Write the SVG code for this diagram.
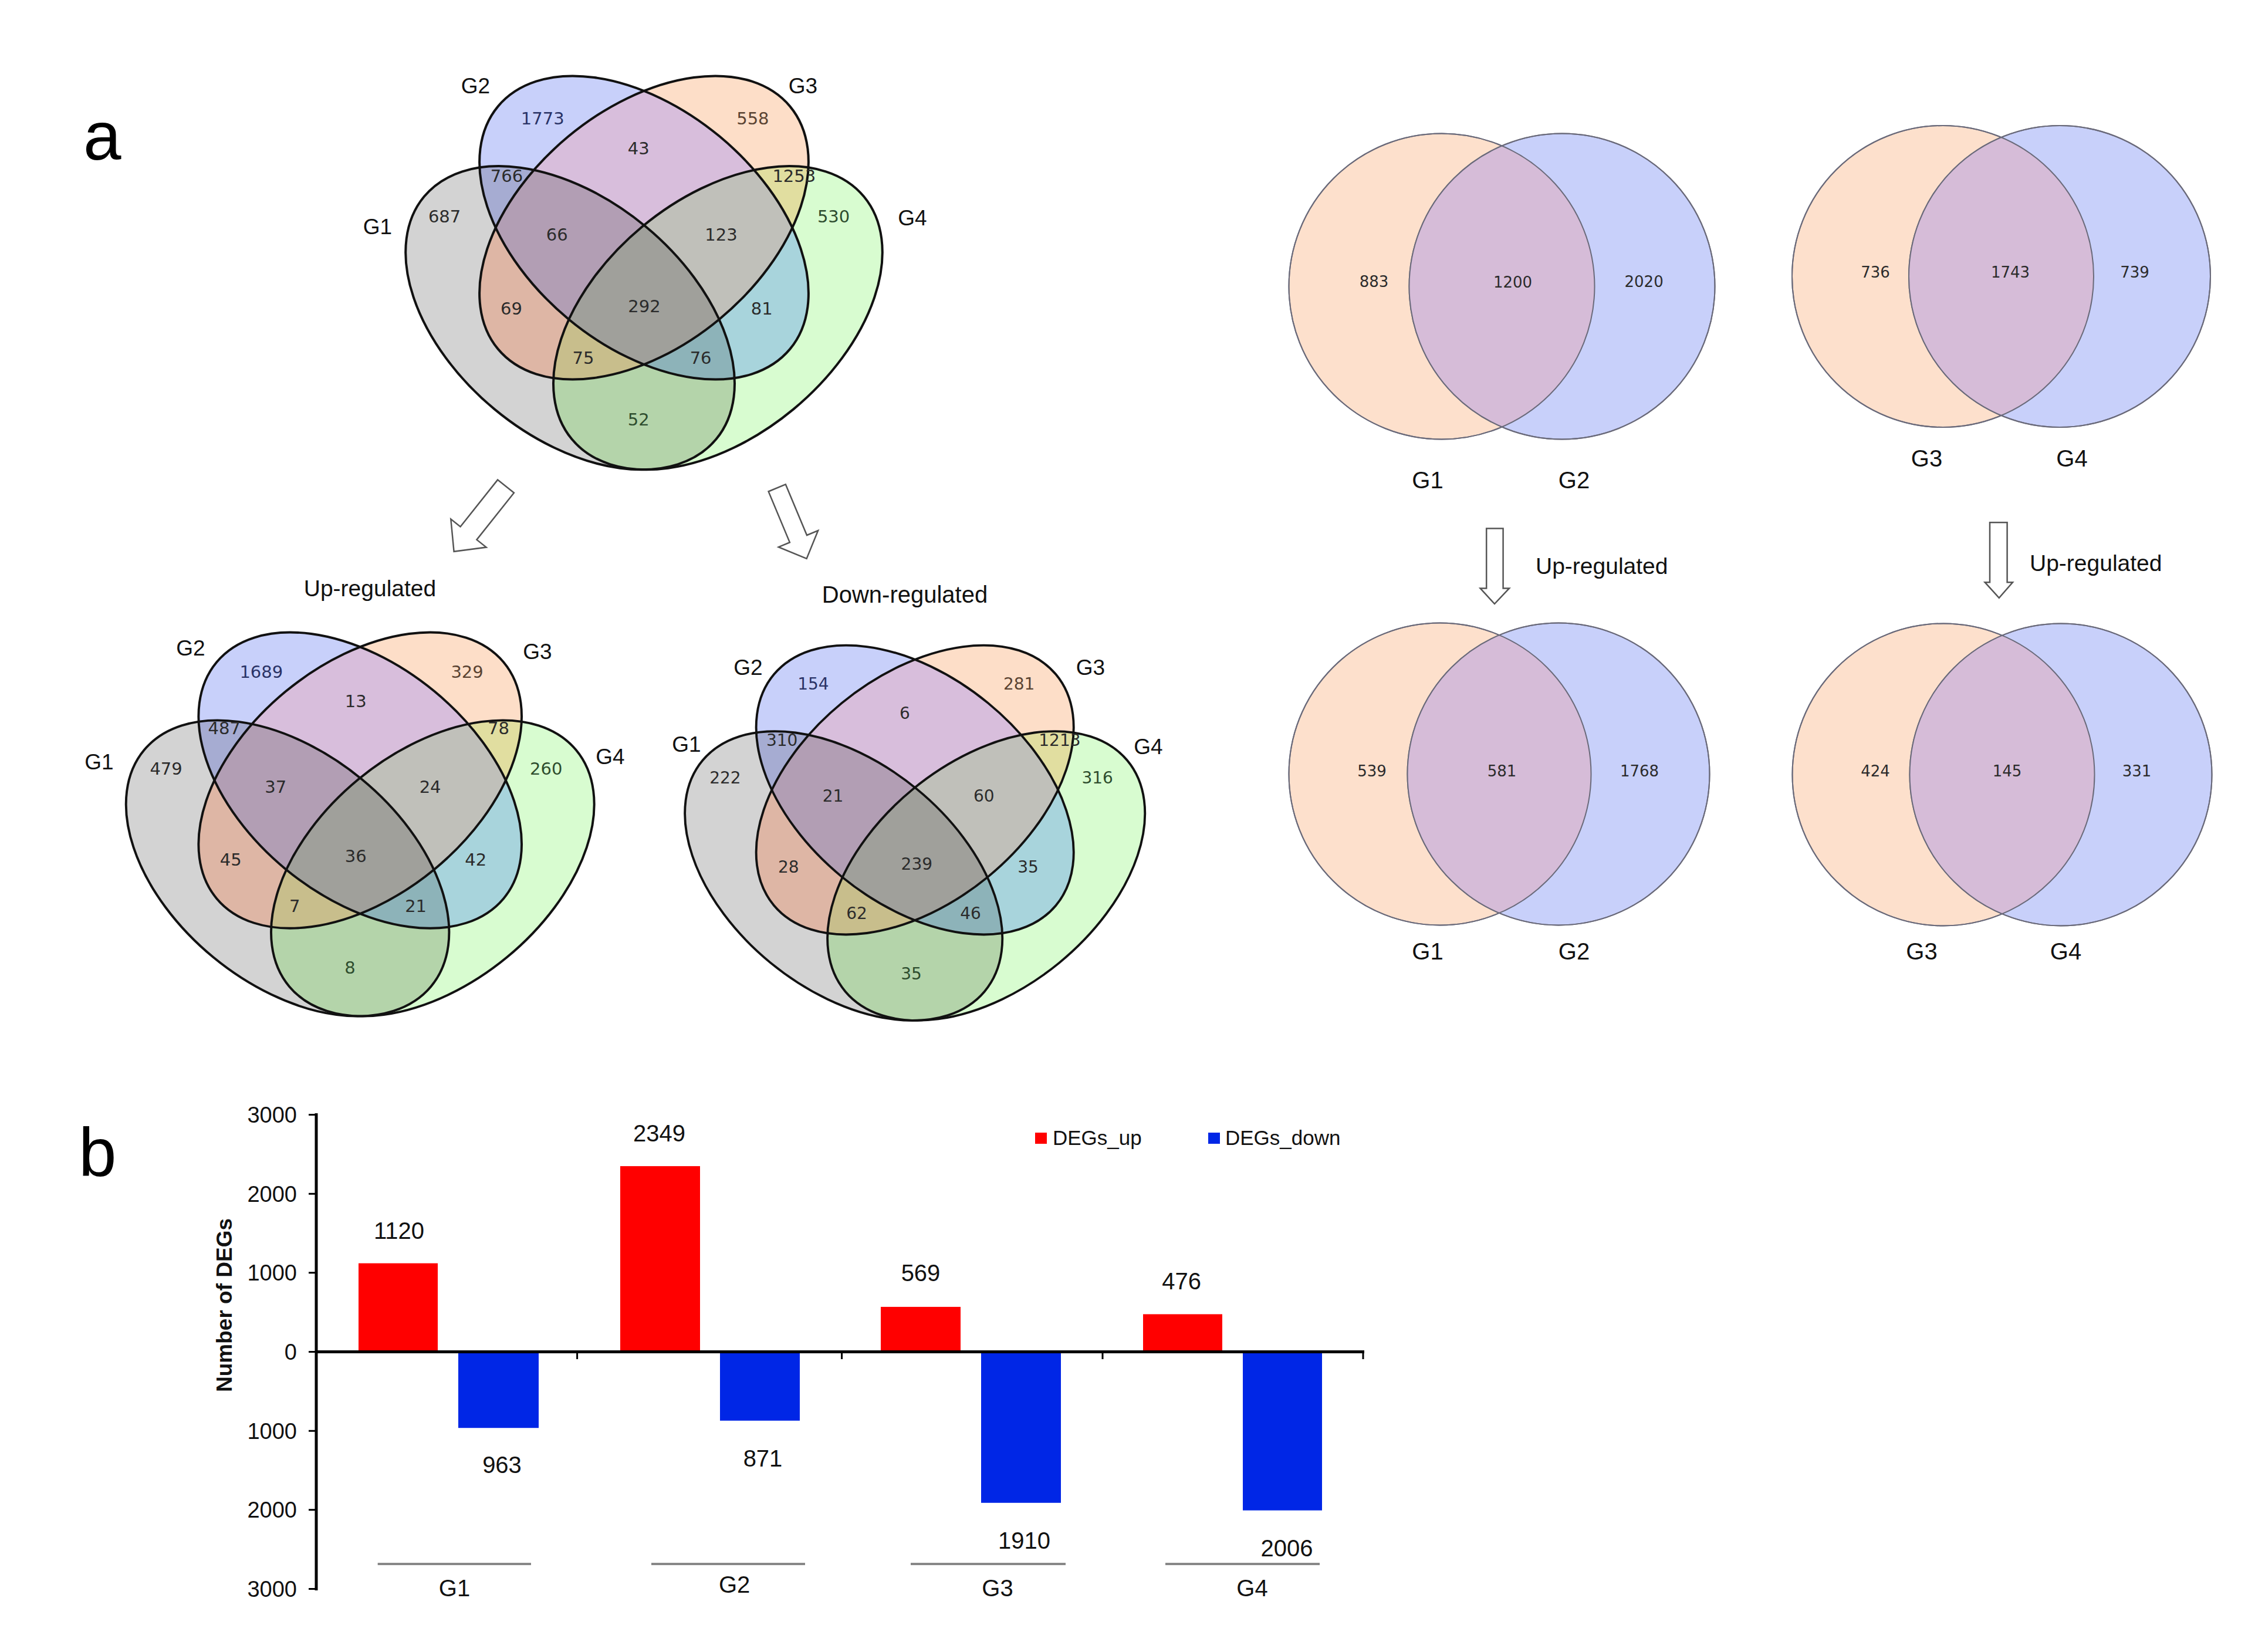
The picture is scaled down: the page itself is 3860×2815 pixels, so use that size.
<svg xmlns="http://www.w3.org/2000/svg" xmlns:xlink="http://www.w3.org/1999/xlink" width="3860" height="2815" viewBox="0 0 3860 2815">
<style>
.num{font-family:"DejaVu Sans","Liberation Sans",sans-serif;font-size:29px;text-anchor:middle;fill:#2b2b2b}
.nd{font-size:28px}
.tb{fill:#2a3366}.to{fill:#5a4332}.tg{fill:#2e4d2e}
.set{font-family:"Liberation Sans",Arial,sans-serif;font-size:37px;text-anchor:middle;fill:#111}
.n2{font-family:"DejaVu Sans","Liberation Sans",sans-serif;font-size:26px;text-anchor:middle;fill:#2b2b2b}
.set2{font-family:"Liberation Sans",Arial,sans-serif;font-size:40px;text-anchor:middle;fill:#111}
.lbl{font-family:"Liberation Sans",Arial,sans-serif;font-size:39px;fill:#111}
.ax{font-family:"Liberation Sans",Arial,sans-serif;font-size:38px;text-anchor:end;fill:#111}
.val{font-family:"Liberation Sans",Arial,sans-serif;font-size:40px;text-anchor:middle;fill:#111}
.leg{font-family:"Liberation Sans",Arial,sans-serif;font-size:35px;fill:#111}
.panel{font-family:"Liberation Sans",Arial,sans-serif;font-size:116px;fill:#000}
.outl{fill:none;stroke:#111;stroke-width:4}
.arrow{fill:#fff;stroke:#555;stroke-width:2.5;stroke-linejoin:miter}
.c2{stroke:#6a6a7a;stroke-width:2}
</style>
<defs>
<ellipse id="e1" cx="971.6" cy="541.7" rx="323.5" ry="202" transform="rotate(39.7 971.6 541.7)"/>
<ellipse id="e2" cx="1097.5" cy="388" rx="323.5" ry="202" transform="rotate(39.7 1097.5 388)"/>
<ellipse id="e3" cx="1097.5" cy="388" rx="323.5" ry="202" transform="rotate(-39.7 1097.5 388)"/>
<ellipse id="e4" cx="1223.4" cy="541.7" rx="323.5" ry="202" transform="rotate(-39.7 1223.4 541.7)"/>
<clipPath id="c1"><use xlink:href="#e1"/></clipPath>
<clipPath id="c2"><use xlink:href="#e2"/></clipPath>
<clipPath id="c3"><use xlink:href="#e3"/></clipPath>
<g id="v4">
<use xlink:href="#e1" fill="#d3d3d3"/>
<use xlink:href="#e2" fill="#c8d0fa"/>
<use xlink:href="#e3" fill="#fddec8"/>
<use xlink:href="#e4" fill="#d8fcd0"/>
<use xlink:href="#e2" clip-path="url(#c1)" fill="#a6acd2"/>
<use xlink:href="#e3" clip-path="url(#c1)" fill="#deb6a5"/>
<use xlink:href="#e4" clip-path="url(#c1)" fill="#b4d4aa"/>
<use xlink:href="#e3" clip-path="url(#c2)" fill="#d8bedc"/>
<use xlink:href="#e4" clip-path="url(#c2)" fill="#a8d4dc"/>
<use xlink:href="#e4" clip-path="url(#c3)" fill="#e1dea0"/>
<g clip-path="url(#c1)"><use xlink:href="#e3" clip-path="url(#c2)" fill="#b29eb4"/></g>
<g clip-path="url(#c1)"><use xlink:href="#e4" clip-path="url(#c2)" fill="#8db3b9"/></g>
<g clip-path="url(#c1)"><use xlink:href="#e4" clip-path="url(#c3)" fill="#c8be8c"/></g>
<g clip-path="url(#c2)"><use xlink:href="#e4" clip-path="url(#c3)" fill="#c0c0ba"/></g>
<g clip-path="url(#c1)"><g clip-path="url(#c2)"><use xlink:href="#e4" clip-path="url(#c3)" fill="#a0a09b"/></g></g>
<use xlink:href="#e1" class="outl"/>
<use xlink:href="#e2" class="outl"/>
<use xlink:href="#e3" class="outl"/>
<use xlink:href="#e4" class="outl"/>
</g>
</defs>
<rect x="0" y="0" width="3860" height="2815" fill="#fff"/>
<text class="panel" x="142" y="272">a</text>
<text class="panel" x="134" y="2004">b</text>

<g id="venn-all">
<use xlink:href="#v4"/>
<text class="set" x="643.5" y="399">G1</text>
<text class="set" x="810.5" y="158.6">G2</text>
<text class="set" x="1368.5" y="158.6">G3</text>
<text class="set" x="1555" y="384">G4</text>
<text class="num tb" x="924.7" y="211.9">1773</text>
<text class="num to" x="1282.9" y="211.9">558</text>
<text class="num" x="1088.2" y="262.7">43</text>
<text class="num" x="863.5" y="310">766</text>
<text class="num" x="1353.3" y="310">1253</text>
<text class="num" x="757.6" y="379">687</text>
<text class="num tg" x="1420.6" y="379">530</text>
<text class="num" x="949.2" y="409.7">66</text>
<text class="num" x="1229" y="409.7">123</text>
<text class="num" x="871.4" y="536.4">69</text>
<text class="num" x="1098" y="532">292</text>
<text class="num" x="1298.2" y="536.4">81</text>
<text class="num" x="993.9" y="619.7">75</text>
<text class="num" x="1194.1" y="619.7">76</text>
<text class="num tg" x="1088.2" y="725">52</text>
</g>

<g id="connectors">
<polygon class="arrow" transform="translate(862,828.7) rotate(128.5)" points="0,-17.8 102,-17.8 102,-38.6 142,0 102,38.6 102,17.8 0,17.8"/>
<polygon class="arrow" transform="translate(1324.2,831.4) rotate(67.3)" points="0,-15.8 94,-15.8 94,-36.5 130.7,0 94,36.5 94,15.8 0,15.8"/>
<polygon class="arrow" points="2533.2,900.4 2561.6,900.4 2561.6,1002.4 2572.1,1002.4 2547,1029 2522.6,1002.4 2533.2,1002.4"/>
<polygon class="arrow" points="3391,890.2 3420.6,890.2 3420.6,992.2 3430,992.2 3406.8,1018.8 3382.6,992.2 3391,992.2"/>
</g>

<g id="venn-up">
<text class="lbl" x="630.5" y="1016" text-anchor="middle">Up-regulated</text>
<use xlink:href="#v4" transform="translate(613.7,1101.8) scale(0.982,0.975) translate(-1097.5,-154.3)"/>
<text class="set" x="169" y="1311">G1</text>
<text class="set" x="325" y="1116.5">G2</text>
<text class="set" x="916" y="1122.7">G3</text>
<text class="set" x="1040" y="1302">G4</text>
<text class="num tb" x="445.3" y="1155.2">1689</text>
<text class="num to" x="796.1" y="1155.2">329</text>
<text class="num" x="606.3" y="1205.4">13</text>
<text class="num" x="382.2" y="1251.3">487</text>
<text class="num" x="849.4" y="1251.3">78</text>
<text class="num" x="283.1" y="1320">479</text>
<text class="num tg" x="930.8" y="1320">260</text>
<text class="num" x="469.8" y="1350.5">37</text>
<text class="num" x="733.1" y="1350.5">24</text>
<text class="num" x="393.3" y="1474.8">45</text>
<text class="num" x="606.3" y="1468.7">36</text>
<text class="num" x="810.8" y="1474.8">42</text>
<text class="num" x="502.2" y="1554.4">7</text>
<text class="num" x="708.6" y="1554.4">21</text>
<text class="num tg" x="596.5" y="1658.5">8</text>
</g>

<g id="venn-down">
<text class="lbl" x="1542" y="1026.5" text-anchor="middle" style="font-size:40px">Down-regulated</text>
<use xlink:href="#v4" transform="translate(1559.2,1123.3) scale(0.965,0.953) translate(-1097.5,-154.3)"/>
<text class="set" x="1170" y="1280.6">G1</text>
<text class="set" x="1275" y="1150">G2</text>
<text class="set" x="1858.5" y="1150">G3</text>
<text class="set" x="1957" y="1285">G4</text>
<text class="num nd tb" x="1385.9" y="1174.5">154</text>
<text class="num nd to" x="1736.7" y="1174.5">281</text>
<text class="num nd" x="1542" y="1224.7">6</text>
<text class="num nd" x="1332.7" y="1271.2">310</text>
<text class="num nd" x="1805.9" y="1271.2">1213</text>
<text class="num nd" x="1235.9" y="1334.9">222</text>
<text class="num nd tg" x="1870.2" y="1334.9">316</text>
<text class="num nd" x="1419.6" y="1365.5">21</text>
<text class="num nd" x="1676.7" y="1365.5">60</text>
<text class="num nd" x="1343.7" y="1486.7">28</text>
<text class="num nd" x="1562.3" y="1481.8">239</text>
<text class="num nd" x="1752" y="1486.7">35</text>
<text class="num nd" x="1460" y="1566.3">62</text>
<text class="num nd" x="1654.1" y="1566.3">46</text>
<text class="num nd tg" x="1553" y="1669.2">35</text>
</g>

<g id="venn-g1g2">
<circle class="c2" cx="2457" cy="488" r="260.5" fill="#fde0cc"/>
<circle class="c2" cx="2662" cy="488" r="260.5" fill="#c8d0fa"/>
<clipPath id="k1"><circle cx="2457" cy="488" r="260.5"/></clipPath>
<circle cx="2662" cy="488" r="260.5" fill="#d6bcd8" clip-path="url(#k1)"/>
<circle cx="2457" cy="488" r="260.5" fill="none" class="c2"/>
<circle cx="2662" cy="488" r="260.5" fill="none" class="c2"/>
<text class="n2 to" x="2341.6" y="489">883</text>
<text class="n2" x="2578" y="490">1200</text>
<text class="n2 tb" x="2801.6" y="489">2020</text>
<text class="set2" x="2433" y="832">G1</text>
<text class="set2" x="2682.5" y="832">G2</text>
</g>

<g id="venn-g3g4">
<circle class="c2" cx="3311" cy="471" r="257" fill="#fde0cc"/>
<circle class="c2" cx="3510" cy="471" r="257" fill="#c8d0fa"/>
<clipPath id="k2"><circle cx="3311" cy="471" r="257"/></clipPath>
<circle cx="3510" cy="471" r="257" fill="#d6bcd8" clip-path="url(#k2)"/>
<circle cx="3311" cy="471" r="257" fill="none" class="c2"/>
<circle cx="3510" cy="471" r="257" fill="none" class="c2"/>
<text class="n2 to" x="3196" y="473">736</text>
<text class="n2" x="3426" y="473">1743</text>
<text class="n2 tb" x="3638" y="473">739</text>
<text class="set2" x="3283.5" y="795">G3</text>
<text class="set2" x="3531" y="795">G4</text>
</g>

<g id="up-label-1"><text class="lbl" x="2617" y="978">Up-regulated</text></g>
<g id="up-label-2"><text class="lbl" x="3459" y="973">Up-regulated</text></g>

<g id="venn-g1g2-up">
<circle class="c2" cx="2454" cy="1319" r="257.5" fill="#fde0cc"/>
<circle class="c2" cx="2656" cy="1319" r="257.5" fill="#c8d0fa"/>
<clipPath id="k3"><circle cx="2454" cy="1319" r="257.5"/></clipPath>
<circle cx="2656" cy="1319" r="257.5" fill="#d6bcd8" clip-path="url(#k3)"/>
<circle cx="2454" cy="1319" r="257.5" fill="none" class="c2"/>
<circle cx="2656" cy="1319" r="257.5" fill="none" class="c2"/>
<text class="n2 to" x="2338" y="1323">539</text>
<text class="n2" x="2559.5" y="1323">581</text>
<text class="n2 tb" x="2794" y="1323">1768</text>
<text class="set2" x="2433" y="1635">G1</text>
<text class="set2" x="2682.5" y="1635">G2</text>
</g>

<g id="venn-g3g4-up">
<circle class="c2" cx="3312" cy="1320" r="257.5" fill="#fde0cc"/>
<circle class="c2" cx="3512" cy="1320" r="257.5" fill="#c8d0fa"/>
<clipPath id="k4"><circle cx="3312" cy="1320" r="257.5"/></clipPath>
<circle cx="3512" cy="1320" r="257.5" fill="#d6bcd8" clip-path="url(#k4)"/>
<circle cx="3312" cy="1320" r="257.5" fill="none" class="c2"/>
<circle cx="3512" cy="1320" r="257.5" fill="none" class="c2"/>
<text class="n2 to" x="3196" y="1323">424</text>
<text class="n2" x="3420.5" y="1323">145</text>
<text class="n2 tb" x="3641.6" y="1323">331</text>
<text class="set2" x="3275" y="1635">G3</text>
<text class="set2" x="3520.5" y="1635">G4</text>
</g>

<g id="bar-chart">
<g id="bars">
<rect x="611" y="2152.6" width="135" height="150.9" fill="#ff0000"/>
<rect x="781" y="2303.5" width="137" height="129.7" fill="#0026e6"/>
<rect x="1057" y="1987.1" width="136" height="316.4" fill="#ff0000"/>
<rect x="1227" y="2303.5" width="136" height="117.3" fill="#0026e6"/>
<rect x="1501" y="2226.9" width="136" height="76.6" fill="#ff0000"/>
<rect x="1672" y="2303.5" width="136" height="257.3" fill="#0026e6"/>
<rect x="1948" y="2239.4" width="135" height="64.1" fill="#ff0000"/>
<rect x="2118" y="2303.5" width="135" height="270.2" fill="#0026e6"/>
</g>
<g id="axes" stroke="#000" stroke-width="5" fill="none">
<line x1="539" y1="1897" x2="539" y2="2710"/>
<line x1="539" y1="2303.5" x2="2325" y2="2303.5"/>
<path d="M526,1899.5H539M526,2034.2H539M526,2168.8H539M526,2303.5H539M526,2438.2H539M526,2572.8H539M526,2707.5H539" stroke-width="3"/>
<path d="M983.6,2303.5V2316M1434.6,2303.5V2316M1879,2303.5V2316M2323,2303.5V2316" stroke-width="3"/>
</g>
<text class="ax" x="506" y="1913">3000</text>
<text class="ax" x="506" y="2048">2000</text>
<text class="ax" x="506" y="2182">1000</text>
<text class="ax" x="506" y="2317">0</text>
<text class="ax" x="506" y="2452">1000</text>
<text class="ax" x="506" y="2586">2000</text>
<text class="ax" x="506" y="2721">3000</text>
<text font-family="Liberation Sans, Arial, sans-serif" font-size="37" font-weight="bold" fill="#111" text-anchor="middle" transform="translate(395,2224) rotate(-90)">Number of DEGs</text>
<text class="val" x="680" y="2111">1120</text>
<text class="val" x="1123.5" y="1945">2349</text>
<text class="val" x="1569" y="2183">569</text>
<text class="val" x="2013.6" y="2197">476</text>
<text class="val" x="855.5" y="2510">963</text>
<text class="val" x="1300" y="2499">871</text>
<text class="val" x="1745.6" y="2639">1910</text>
<text class="val" x="2193" y="2652">2006</text>
<g stroke="#888" stroke-width="4">
<line x1="643.7" y1="2665" x2="905" y2="2665"/>
<line x1="1110" y1="2665" x2="1372" y2="2665"/>
<line x1="1552" y1="2665" x2="1816" y2="2665"/>
<line x1="1986" y1="2665" x2="2249" y2="2665"/>
</g>
<text class="val" x="774.5" y="2720">G1</text>
<text class="val" x="1251.6" y="2714">G2</text>
<text class="val" x="1700" y="2720">G3</text>
<text class="val" x="2134" y="2720">G4</text>
<g id="legend">
<rect x="1764" y="1930" width="20" height="19" fill="#ff0000"/>
<text class="leg" x="1794" y="1951">DEGs_up</text>
<rect x="2059" y="1930" width="20" height="19" fill="#0026e6"/>
<text class="leg" x="2088" y="1951">DEGs_down</text>
</g>
</g>
</svg>
